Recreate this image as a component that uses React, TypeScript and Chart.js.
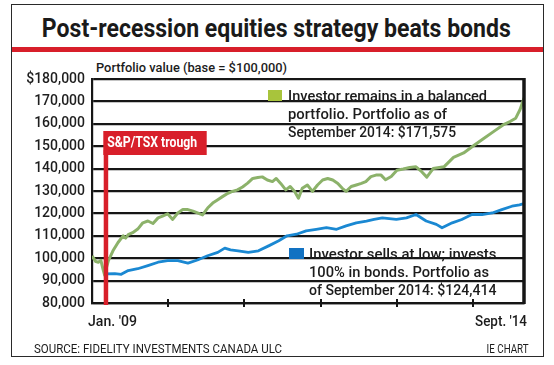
import React, { useEffect, useRef } from 'react';
import { Chart, registerables } from 'chart.js';
Chart.register(...registerables);

// ---------- data ----------
const greenMonths = [0, 0.6, 1.0, 1.4, 1.7, 2.0, 2.3, 2.6, 3.3, 4.1, 4.9, 5.3, 5.7, 6.4, 7.2, 8.0, 8.8, 9.6, 10.4, 11.1, 11.9, 12.7, 13.5, 14.3, 15.1, 15.9, 16.6, 17.4, 18.2, 19.0, 19.8, 20.6, 21.4, 22.1, 22.9, 23.7, 24.5, 25.3, 26.1, 26.8, 27.6, 28.4, 29.0, 29.7, 30.5, 31.2, 31.9, 32.5, 33.1, 33.9, 34.7, 35.5, 36.3, 37.1, 37.9, 38.7, 39.4, 40.0, 40.8, 41.6, 42.4, 43.1, 43.9, 44.7, 45.5, 46.2, 47.1, 48.0, 49.0, 50.0, 51.0, 51.9, 52.7, 53.7, 55.4, 56.9, 58.5, 60.1, 61.6, 63.2, 64.7, 65.8, 66.7, 67.4, 68.0];
const greenValues = [101000, 98500, 98200, 99000, 95500, 92300, 96000, 99000, 103300, 107000, 110000, 109000, 110500, 111400, 113000, 115800, 116600, 115500, 118000, 118800, 119800, 117300, 120200, 121700, 121700, 121000, 120200, 119300, 122400, 124600, 126100, 127600, 129000, 129800, 130500, 131800, 133500, 135600, 136000, 136300, 134900, 134200, 135600, 133400, 130500, 132000, 129800, 126800, 131200, 132700, 129800, 132700, 134900, 135600, 134900, 133400, 131200, 129800, 132000, 132700, 133400, 134200, 136400, 137100, 137100, 135000, 136500, 139300, 139800, 140500, 140800, 138600, 136200, 140000, 140800, 145000, 147000, 150300, 153300, 156500, 159500, 161000, 162500, 166500, 171575];

const blueMonths = [2.0, 3.6, 4.6, 5.7, 7.2, 8.8, 10.4, 11.9, 13.5, 15.1, 16.6, 18.2, 19.8, 20.9, 21.8, 23.0, 24.6, 26.2, 27.8, 29.4, 30.7, 32.2, 33.7, 35.3, 36.9, 38.5, 40.0, 41.6, 43.2, 44.4, 45.7, 47.9, 49.5, 51.0, 52.6, 54.2, 55.1, 56.7, 58.2, 59.8, 61.4, 63.0, 64.5, 66.1, 67.3, 68.0];
const blueValues = [93000, 93100, 92800, 94500, 95300, 96700, 98200, 98900, 98900, 97800, 99200, 101100, 102600, 104500, 103700, 103300, 102600, 103300, 105500, 107800, 110000, 110700, 112200, 112900, 113600, 112900, 114400, 115800, 116600, 117300, 118000, 117300, 118000, 119500, 116600, 115100, 113600, 115800, 117300, 119500, 119500, 120200, 121700, 123200, 123800, 124414];

const yTickValues = [80000, 90000, 100000, 110000, 120000, 130000, 140000, 150000, 160000, 170000, 180000];
const yTickLabels = ['80,000', '90,000', '100,000', '110,000', '120,000', '130,000', '140,000', '150,000', '160,000', '170,000', '$180,000'];
const xTickMonths = [12, 24, 36, 48, 60];
const xMin = 0;
const xMax = 68;
const troughMonth = 2;
const troughLabel = 'S&P/TSX trough';
const startLabel = "Jan. '09";
const endLabel = "Sept. '14";

const titleText = 'Post-recession equities strategy beats bonds';
const axisTitle = 'Portfolio value (base = $100,000)';
const greenLegend = ['Investor remains in a balanced', 'portfolio. Portfolio as of', 'September 2014: $171,575'];
const blueLegend = ['Investor sells at low; invests', '100% in bonds. Portfolio as', 'of September 2014: $124,414'];
const sourceText = 'SOURCE: FIDELITY INVESTMENTS CANADA ULC';
const creditText = 'IE CHART';

// ---------- styles ----------
const FAM = "Roboto, 'Noto Sans', sans-serif";
const RED = '#d81f2a';
const INK = '#161616';
const GREEN_LINE = '#8cb26a';
const GREEN_KEY = '#a8c43c';
const BLUE_LINE = '#1a88d2';
const BLUE_KEY = '#1272c2';

let measureCtx: CanvasRenderingContext2D | null = null;
function measure(text: string, font: string) {
  if (!measureCtx) measureCtx = document.createElement('canvas').getContext('2d');
  measureCtx!.font = font;
  return measureCtx!.measureText(text).width;
}

type TxtProps = { text: string; x: number; y: number; w: number; size: number; weight: number; color?: string; align?: 'left' | 'right' | 'center' };
function Txt({ text, x, y, w, size, weight, color = '#1c1c1c', align = 'left' }: TxtProps) {
  const font = `${weight} ${size}px ${FAM}`;
  const nat = measure(text, font);
  const sx = w / nat;
  let left = x;
  let origin = 'left center';
  if (align === 'right') { left = x - nat; origin = 'right center'; }
  if (align === 'center') { left = x - nat / 2; origin = 'center center'; }
  return (
    <div style={{ position: 'absolute', left, top: y - size / 2, height: size, lineHeight: `${size}px`, font, color, whiteSpace: 'nowrap', transform: `scaleX(${sx})`, transformOrigin: origin }}>{text}</div>
  );
}

const overlayPlugin = {
  id: 'overlay',
  afterDatasetsDraw(chart: any) {
    const { ctx, chartArea, scales } = chart;
    const xs = scales.x;
    ctx.save();
    // right frame border
    ctx.strokeStyle = INK;
    ctx.lineWidth = 3.5;
    ctx.beginPath();
    ctx.moveTo(chartArea.right, chartArea.top - 1);
    ctx.lineTo(chartArea.right, chartArea.bottom + 1);
    ctx.stroke();
    // x tick marks
    ctx.lineWidth = 2;
    for (const m of xTickMonths) {
      const px = Math.round(xs.getPixelForValue(m));
      ctx.beginPath();
      ctx.moveTo(px, chartArea.bottom - 4);
      ctx.lineTo(px, chartArea.bottom + 4);
      ctx.stroke();
    }
    // trough marker
    const tx = xs.getPixelForValue(troughMonth);
    ctx.fillStyle = RED;
    ctx.fillRect(tx - 1, 150, 4.5, chartArea.bottom - 150 + 2);
    ctx.fillRect(tx - 1.4, 131, 103.4, 24);
    const font = `700 14px ${FAM}`;
    ctx.font = font;
    const nat = ctx.measureText(troughLabel).width;
    ctx.translate(tx + 2.5, 143);
    ctx.scale(90 / nat, 1);
    ctx.fillStyle = '#ffffff';
    ctx.textBaseline = 'middle';
    ctx.textAlign = 'left';
    ctx.fillText(troughLabel, 0, 0);
    ctx.restore();
  },
};

function App() {
  const ref = useRef<HTMLCanvasElement>(null);
  useEffect(() => {
    const chart = new Chart(ref.current!, {
      type: 'line',
      data: {
        datasets: [
          {
            label: 'Bonds',
            data: blueMonths.map((m, i) => ({ x: m, y: blueValues[i] })),
            borderColor: BLUE_LINE,
            borderWidth: 2.8,
            pointRadius: 0,
            tension: 0,
            borderJoinStyle: 'round',
          },
          {
            label: 'Balanced',
            data: greenMonths.map((m, i) => ({ x: m, y: greenValues[i] })),
            borderColor: GREEN_LINE,
            borderWidth: 3,
            pointRadius: 0,
            tension: 0,
            borderJoinStyle: 'round',
          },
        ],
      },
      options: {
        responsive: false,
        animation: false,
        devicePixelRatio: 1,
        layout: { padding: { top: 79, right: 30, left: 0, bottom: 0 } },
        plugins: { legend: { display: false }, tooltip: { enabled: false }, title: { display: false } },
        scales: {
          x: {
            type: 'linear',
            min: xMin,
            max: xMax,
            ticks: { display: false },
            grid: { display: false },
            border: { display: true, color: INK, width: 2.2 },
            afterFit: (s: any) => { s.height = 62; },
          },
          y: {
            type: 'linear',
            min: yTickValues[0],
            max: yTickValues[yTickValues.length - 1],
            afterBuildTicks: (s: any) => { s.ticks = yTickValues.map((v) => ({ value: v })); },
            ticks: {
              padding: 7,
              color: '#1e1e1e',
              font: { family: FAM, size: 14, weight: 500 },
              callback: (v: any) => yTickLabels[yTickValues.indexOf(Number(v))],
            },
            grid: { color: INK, lineWidth: 2.2, drawTicks: false },
            border: { display: true, color: INK, width: 2.2 },
            afterFit: (s: any) => { s.width = 92; },
          },
        },
      },
      plugins: [overlayPlugin],
    });
    return () => chart.destroy();
  }, []);

  return (
    <div style={{ position: 'absolute', left: 0, top: 0, width: 554, height: 365, background: '#fff', overflow: 'hidden' }}>
      <div style={{ position: 'absolute', left: 11, top: 4, width: 531, height: 351, border: '1.5px solid #2a2a2a' }} />
      <div style={{ position: 'absolute', left: 12, top: 47, width: 531, height: 5, background: RED }} />
      <Txt text={titleText} x={276.5} y={26.5} w={469} size={25} weight={700} align="center" color="#1a1a1a" />
      <Txt text={axisTitle} x={96} y={66} w={191} size={13} weight={500} />
      <canvas ref={ref} width={554} height={365} style={{ position: 'absolute', left: 0, top: 0, width: 554, height: 365 }} />
      <div style={{ position: 'absolute', left: 268, top: 89.5, width: 14, height: 11.5, background: GREEN_KEY }} />
      <Txt text={greenLegend[0]} x={287.5} y={95} w={199} size={14} weight={500} />
      <Txt text={greenLegend[1]} x={287.5} y={113} w={159} size={14} weight={500} />
      <Txt text={greenLegend[2]} x={287.5} y={131} w={168} size={14} weight={500} />
      <div style={{ position: 'absolute', left: 288.5, top: 247.5, width: 15, height: 11, background: BLUE_KEY }} />
      <Txt text={blueLegend[0]} x={308.5} y={252.5} w={187.5} size={14} weight={500} />
      <Txt text={blueLegend[1]} x={308.5} y={271} w={180} size={14} weight={500} />
      <Txt text={blueLegend[2]} x={308.5} y={289} w={187.5} size={14} weight={500} />
      <Txt text={startLabel} x={88} y={319} w={49} size={15} weight={500} />
      <Txt text={endLabel} x={527} y={319} w={52} size={15} weight={500} align="right" />
      <Txt text={sourceText} x={34} y={347} w={248} size={12.5} weight={400} />
      <Txt text={creditText} x={529} y={347} w={42} size={12.5} weight={400} align="right" />
    </div>
  );
}

export default App;
